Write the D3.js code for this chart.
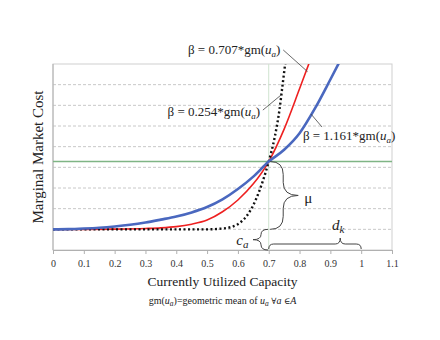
<!DOCTYPE html>
<html>
<head>
<meta charset="utf-8">
<script src="https://cdn.jsdelivr.net/npm/d3@7"></script>
<style>
body { margin: 0; background: #fff; }
text { font-family: "Liberation Serif", "Times New Roman", serif; fill: #222; }
</style>
</head>
<body>
<div id="chart"></div>
<script>
// values (y in grid units, curves start at c_a = 1)
var xTicks = [0, 0.1, 0.2, 0.3, 0.4, 0.5, 0.6, 0.7, 0.8, 0.9, 1, 1.1];
var yGrid = [1, 2, 3, 4, 5, 6, 7, 8];

var blueX = [0, 0.05, 0.1, 0.15, 0.2, 0.25, 0.3, 0.35, 0.4, 0.45, 0.5, 0.55, 0.6, 0.65, 0.7, 0.75, 0.8, 0.85, 0.9, 0.94];
var blueY = [1, 1.01, 1.04, 1.08, 1.14, 1.22, 1.33, 1.47, 1.62, 1.82, 2.08, 2.45, 2.95, 3.55, 4.28, 4.85, 5.65, 6.85, 8.25, 9.4];

var redX = [0, 0.1, 0.2, 0.3, 0.35, 0.4, 0.45, 0.5, 0.55, 0.6, 0.65, 0.7, 0.75, 0.8, 0.84];
var redY = [1, 1, 1.01, 1.04, 1.07, 1.13, 1.25, 1.45, 1.85, 2.42, 3.2, 4.28, 5.85, 7.8, 9.4];

var blackX = [0, 0.2, 0.4, 0.5, 0.55, 0.58, 0.6, 0.62, 0.64, 0.66, 0.68, 0.7, 0.72, 0.735, 0.745, 0.755];
var blackY = [1, 1, 1, 1, 1.04, 1.12, 1.25, 1.5, 1.9, 2.5, 3.3, 4.28, 5.5, 6.8, 8.0, 9.2];

var crossX = 0.7;
var crossY = 4.28;
var baseY = 1;

var betaLabels = [
    {coef: "0.707", x: 0.438, y: 9.48, anchor: "start", lx1: 0.747, ly1: 9.68, lx2: 0.826, ly2: 8.63},
    {coef: "0.254", x: 0.672, y: 6.48, anchor: "end", lx1: 0.681, ly1: 6.77, lx2: 0.740, ly2: 7.5},
    {coef: "1.161", x: 0.811, y: 5.32, anchor: "start", lx1: 0.873, ly1: 5.95, lx2: 0.837, ly2: 6.58}
];

var width = 440, height = 340;
var margin = {top: 64, right: 48, bottom: 90, left: 53};
var w = width - margin.left - margin.right;
var h = height - margin.top - margin.bottom;

var svg = d3.select("#chart")
    .append("svg")
    .attr("width", width)
    .attr("height", height);

var g = svg.append("g")
    .attr("transform", "translate(" + margin.left + "," + margin.top + ")");

var x = d3.scaleLinear().domain([0, 1.1]).range([0, w]);
var y = d3.scaleLinear().domain([0, 9]).range([h, 0]);

g.append("clipPath").attr("id", "clip")
    .append("rect").attr("width", w).attr("height", h);

// gridlines
g.selectAll(".grid")
    .data(yGrid)
    .enter()
    .append("line")
        .attr("x1", 0).attr("x2", w)
        .attr("y1", function(d) { return y(d); })
        .attr("y2", function(d) { return y(d); })
        .style("stroke", "#c8c8c8")
        .style("stroke-dasharray", "3,2");

// plot frame
g.append("rect")
    .attr("width", w).attr("height", h)
    .style("fill", "none")
    .style("stroke", "#cfcfcf");

// x axis
var xAxis = g.append("g")
    .attr("transform", "translate(0," + h + ")")
    .call(d3.axisBottom(x).tickValues(xTicks).tickSize(4).tickSizeOuter(0)
        .tickFormat(function(d) { return d3.format("~g")(d); }));
xAxis.select(".domain").style("stroke", "#b0b0b0");
xAxis.selectAll(".tick line").style("stroke", "#b0b0b0");
xAxis.selectAll("text")
    .attr("dy", "0.95em")
    .style("font-family", "Liberation Serif, serif")
    .style("font-size", "10px")
    .style("fill", "#333");

g.append("line")
    .attr("x1", 0).attr("x2", 0).attr("y1", 0).attr("y2", h)
    .style("stroke", "#b0b0b0");

// reference lines
g.append("line")
    .attr("x1", x(crossX)).attr("x2", x(crossX))
    .attr("y1", 0).attr("y2", h)
    .style("stroke", "#cfe3cf");
g.append("line")
    .attr("x1", 0).attr("x2", w)
    .attr("y1", y(crossY)).attr("y2", y(crossY))
    .style("stroke", "#7fb585")
    .style("stroke-width", 1.5);

// curves
var line = d3.line()
    .x(function(d) { return x(d[0]); })
    .y(function(d) { return y(d[1]); })
    .curve(d3.curveMonotoneX);

var curves = g.append("g").attr("clip-path", "url(#clip)");

curves.append("path")
    .attr("d", line(d3.zip(redX, redY)))
    .style("fill", "none")
    .style("stroke", "#ee2020")
    .style("stroke-width", 1.6);

curves.append("path")
    .attr("d", line(d3.zip(blackX, blackY)))
    .style("fill", "none")
    .style("stroke", "#111")
    .style("stroke-width", 2.4)
    .style("stroke-dasharray", "2,2.5");

curves.append("path")
    .attr("d", line(d3.zip(blueX, blueY)))
    .style("fill", "none")
    .style("stroke", "#4a68bf")
    .style("stroke-width", 2.6);

// beta labels with leader lines
betaLabels.forEach(function(b) {
    g.append("line")
        .attr("x1", x(b.lx1)).attr("y1", y(b.ly1))
        .attr("x2", x(b.lx2)).attr("y2", y(b.ly2))
        .style("stroke", "#444")
        .style("stroke-width", 0.8);
    var t = g.append("text")
        .attr("x", x(b.x)).attr("y", y(b.y))
        .attr("text-anchor", b.anchor)
        .style("font-size", "13px");
    t.append("tspan").text("\u03B2 = " + b.coef + "*gm(");
    t.append("tspan").style("font-style", "italic").text("u");
    t.append("tspan").style("font-style", "italic").style("font-size", "9px").attr("dy", 3).text("a");
    t.append("tspan").attr("dy", -3).text(")");
});

// braces
function vBrace(x0, y1, y2, dir, d, c) {
    var ym = (y1 + y2) / 2;
    var k = Math.min(c, Math.abs(y2 - y1) / 4);
    return "M" + (x0 - dir * c) + "," + y1 +
        " Q" + x0 + "," + y1 + " " + x0 + "," + (y1 + k) +
        " L" + x0 + "," + (ym - k) +
        " Q" + x0 + "," + ym + " " + (x0 + dir * d) + "," + ym +
        " Q" + x0 + "," + ym + " " + x0 + "," + (ym + k) +
        " L" + x0 + "," + (y2 - k) +
        " Q" + x0 + "," + y2 + " " + (x0 - dir * c) + "," + y2;
}
function hBrace(x1, x2, xt, y0, d, c) {
    return "M" + x1 + "," + (y0 + c) +
        " Q" + x1 + "," + y0 + " " + (x1 + c) + "," + y0 +
        " L" + (xt - c) + "," + y0 +
        " Q" + xt + "," + y0 + " " + xt + "," + (y0 - d) +
        " Q" + xt + "," + y0 + " " + (xt + c) + "," + y0 +
        " L" + (x2 - c) + "," + y0 +
        " Q" + x2 + "," + y0 + " " + x2 + "," + (y0 + c);
}

var braceStyle = function(p) {
    p.style("fill", "none").style("stroke", "#444").style("stroke-width", 1);
};

g.append("path").attr("d", vBrace(x(0.747), y(crossY), y(baseY), 1, 15, 13)).call(braceStyle);
g.append("path").attr("d", vBrace(x(0.675), y(baseY), y(0), -1, 8, 7)).call(braceStyle);
g.append("path").attr("d", hBrace(x(crossX), x(1), x(0.932), y(0) - 6, 6, 5)).call(braceStyle);

g.append("text")
    .attr("x", x(0.815)).attr("y", y(2.27))
    .style("font-size", "15px")
    .text("\u03BC");

var ca = g.append("text")
    .attr("x", x(0.595)).attr("y", y(0.24))
    .style("font-size", "15px")
    .style("font-style", "italic");
ca.append("tspan").text("c");
ca.append("tspan").attr("dy", 3).style("font-size", "11px").text("a");

var dk = g.append("text")
    .attr("x", x(0.905)).attr("y", y(0.97))
    .style("font-size", "15px")
    .style("font-style", "italic");
dk.append("tspan").text("d");
dk.append("tspan").attr("dy", 3).style("font-size", "11px").text("k");

// axis titles
svg.append("text")
    .attr("x", margin.left + w / 2).attr("y", 286)
    .attr("text-anchor", "middle")
    .style("font-size", "13.5px")
    .text("Currently Utilized Capacity");

svg.append("text")
    .attr("transform", "translate(43," + (margin.top + h / 2) + ") rotate(-90)")
    .attr("text-anchor", "middle")
    .style("font-size", "15px")
    .text("Marginal Market Cost");

var sub = svg.append("text")
    .attr("x", margin.left + w / 2).attr("y", 304)
    .attr("text-anchor", "middle")
    .style("font-size", "10px");
sub.append("tspan").text("gm(");
sub.append("tspan").style("font-style", "italic").text("u");
sub.append("tspan").style("font-style", "italic").style("font-size", "7.5px").attr("dy", 2).text("a");
sub.append("tspan").attr("dy", -2).text(")=geometric mean of ");
sub.append("tspan").style("font-style", "italic").text("u");
sub.append("tspan").style("font-style", "italic").style("font-size", "7.5px").attr("dy", 2).text("a");
sub.append("tspan").attr("dy", -2).text(" ");
sub.append("tspan").style("font-family", "DejaVu Serif, serif").style("font-size", "8.5px").text("\u2200");
sub.append("tspan").style("font-style", "italic").text("a ");
sub.append("tspan").style("font-family", "DejaVu Serif, serif").style("font-size", "8.5px").text("\u2208");
sub.append("tspan").style("font-style", "italic").text("A");
</script>
</body>
</html>
